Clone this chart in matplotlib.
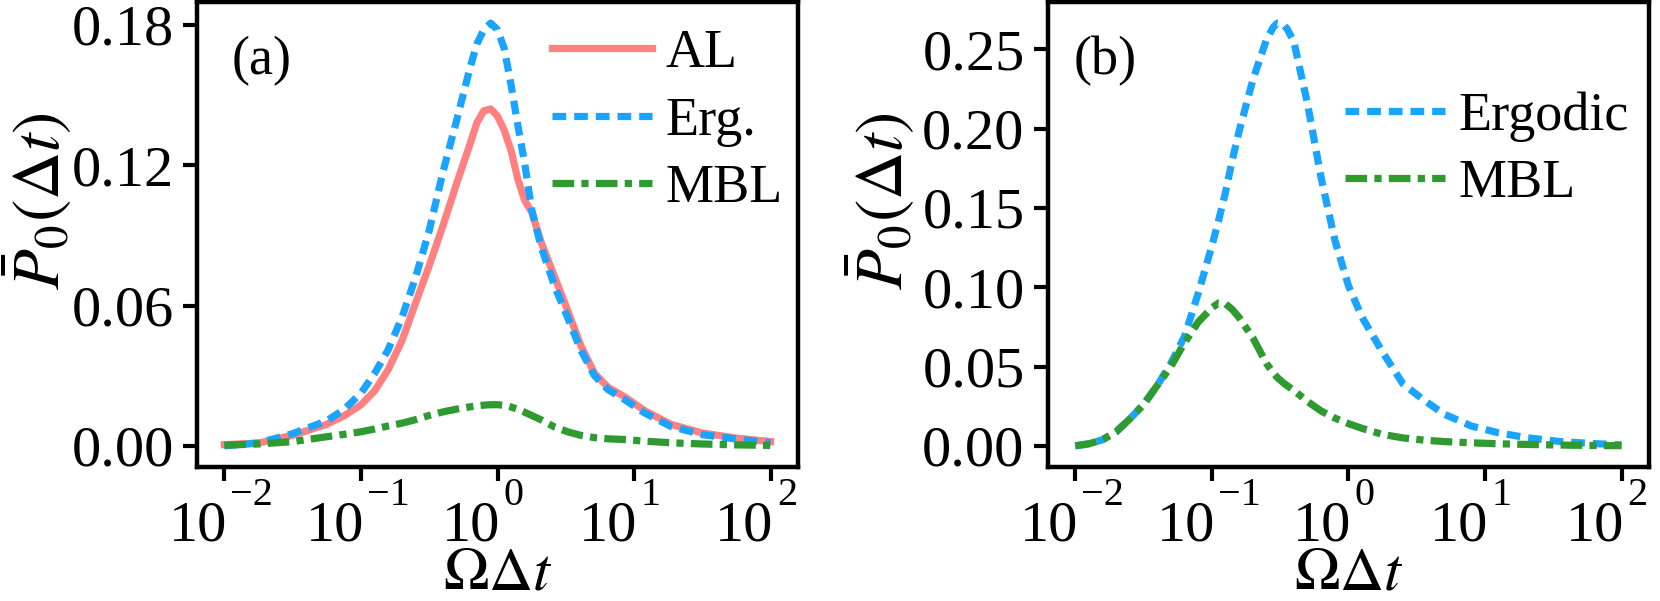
import matplotlib
matplotlib.use("Agg")
import matplotlib.pyplot as plt
from matplotlib.ticker import FormatStrFormatter, NullLocator
from matplotlib.transforms import offset_copy

plt.rcParams['font.family'] = ['Liberation Serif', 'DejaVu Serif']
plt.rcParams['mathtext.fontset'] = 'stix'

# panel (a): values
x_a = [0.01, 0.0178, 0.0316, 0.0562, 0.075, 0.1, 0.126, 0.158, 0.2, 0.251, 0.316,
       0.398, 0.501, 0.631, 0.708, 0.794, 0.891, 1.0, 1.12, 1.26, 1.41,
       1.58, 1.78, 2.09, 2.63, 3.31, 4.07, 5.13, 6.46, 8.51, 12.0,
       18.6, 31.6, 56.2, 100.0]
al_a = [0.0005, 0.0012, 0.0045, 0.0092, 0.0128, 0.0175, 0.0235, 0.0325, 0.045, 0.061, 0.077,
        0.094, 0.112, 0.1293, 0.1383, 0.1433, 0.1441, 0.141, 0.135, 0.126, 0.114,
        0.105, 0.100, 0.087, 0.072, 0.057, 0.043, 0.031, 0.025, 0.021, 0.015,
        0.0092, 0.0055, 0.0033, 0.0018]
erg_a = [0.0, 0.0012, 0.0052, 0.0107, 0.0155, 0.0225, 0.031, 0.041, 0.055, 0.072, 0.092,
         0.117, 0.139, 0.162, 0.172, 0.178, 0.1808, 0.178, 0.170, 0.154, 0.137,
         0.121, 0.101, 0.085, 0.068, 0.054, 0.041, 0.030, 0.024, 0.0198, 0.014,
         0.0083, 0.0048, 0.0029, 0.0013]
mbl_a = [0.0003, 0.0008, 0.0018, 0.0039, 0.0049, 0.0060, 0.0072, 0.0085, 0.0097, 0.0112, 0.0130,
         0.0145, 0.0157, 0.0167, 0.0171, 0.0174, 0.0176, 0.0176, 0.0173, 0.0166, 0.0156,
         0.0144, 0.0130, 0.0111, 0.0080, 0.0059, 0.0045, 0.0035, 0.0030, 0.0027, 0.0020,
         0.0013, 0.0008, 0.0004, 0.0002]

# panel (b)
x_b = [0.01, 0.0126, 0.0158, 0.02, 0.0251, 0.0316, 0.0398, 0.0501, 0.0631, 0.0794,
       0.1, 0.112, 0.126, 0.141, 0.158, 0.2, 0.251, 0.282, 0.302, 0.331,
       0.355, 0.398, 0.501, 0.631, 0.794, 1.0, 1.26, 1.78, 2.51, 3.55,
       5.01, 7.94, 12.6, 20.0, 35.5, 63.1, 100.0]
erg_b = [0.0, 0.0013, 0.0038, 0.009, 0.017, 0.026, 0.038, 0.052, 0.069, 0.096,
         0.126, 0.142, 0.160, 0.180, 0.198, 0.231, 0.256, 0.264, 0.2665, 0.266,
         0.263, 0.255, 0.216, 0.169, 0.130, 0.101, 0.081, 0.059, 0.039, 0.029,
         0.020, 0.0125, 0.0082, 0.0052, 0.0027, 0.0014, 0.0006]
mbl_b = [0.0, 0.0013, 0.0038, 0.009, 0.017, 0.026, 0.038, 0.050, 0.065, 0.078,
         0.087, 0.090, 0.0895, 0.086, 0.081, 0.068, 0.052, 0.046, 0.043, 0.040,
         0.038, 0.035, 0.028, 0.022, 0.0175, 0.014, 0.011, 0.0072, 0.0050, 0.0036,
         0.0027, 0.0019, 0.0013, 0.0009, 0.0005, 0.0002, 0.0001]

yticks_a = [0.00, 0.06, 0.12, 0.18]
yticks_b = [0.00, 0.05, 0.10, 0.15, 0.20, 0.25]
xticks = [1e-2, 1e-1, 1e0, 1e1, 1e2]
xtick_exp = ['\u22122', '\u22121', '0', '1', '2']

c_al = '#ff8080'
c_erg = '#1aa3ff'
c_mbl = '#2f9a2f'
lw = 2.6

fig = plt.figure(figsize=(8.3, 3.005), dpi=200)
ax1 = fig.add_axes([0.1187, 0.2230, 0.3620, 0.7737])
ax2 = fig.add_axes([0.6313, 0.2230, 0.3620, 0.7737])

ax1.plot(x_a, al_a, color=c_al, lw=lw, label='AL')
ax1.plot(x_a, erg_a, color=c_erg, lw=lw, dashes=(1.9, 1.1), label='Erg.')
ax1.plot(x_a, mbl_a, color=c_mbl, lw=lw, dashes=(3.0, 1.0, 1.0, 1.0), label='MBL')

ax2.plot(x_b, erg_b, color=c_erg, lw=lw, dashes=(1.9, 1.1), label='Ergodic')
ax2.plot(x_b, mbl_b, color=c_mbl, lw=lw, dashes=(3.0, 1.0, 1.0, 1.0), label='MBL')

for ax, yt, ylab_x in [(ax1, yticks_a, -0.205), (ax2, yticks_b, -0.218)]:
    ax.set_xscale('log')
    ax.set_xticks(xticks)
    ax.xaxis.set_minor_locator(NullLocator())
    ax.set_yticks(yt)
    ax.yaxis.set_major_formatter(FormatStrFormatter('%.2f'))
    ax.tick_params(which='major', length=4.9, width=1.5, labelsize=21)
    ax.tick_params(axis='x', labelbottom=False)
    for s in ax.spines.values():
        s.set_linewidth(1.6)
    # x tick labels as 10 with a raised exponent
    tr = ax.get_xaxis_transform()
    base_tr = offset_copy(tr, fig=fig, x=1.1, y=-11.9, units='points')
    exp_tr = offset_copy(tr, fig=fig, x=2.2, y=-3.6, units='points')
    for t, e in zip(xticks, xtick_exp):
        ax.text(t, 0, '10', transform=base_tr, ha='right', va='top', fontsize=21)
        ax.text(t, 0, e, transform=exp_tr, ha='left', va='top', fontsize=14.5)
    ax.set_xlabel(r'$\Omega\Delta t$', fontsize=22)
    ax.xaxis.set_label_coords(0.5, -0.173)
    ax.set_ylabel(r'$\bar{P}_0(\Delta t)$', fontsize=24)
    ax.yaxis.set_label_coords(ylab_x, 0.572)

ax1.text(0.058, 0.873, '(a)', transform=ax1.transAxes, fontsize=19.5, ha='left', va='center')
ax2.text(0.042, 0.873, '(b)', transform=ax2.transAxes, fontsize=19.5, ha='left', va='center')

ax1.legend(loc='upper right', bbox_to_anchor=(0.975, 0.942), frameon=False, fontsize=19.5,
           handlelength=1.84, handletextpad=0.25, labelspacing=0.31, borderpad=0, borderaxespad=0)
ax2.legend(loc='upper right', bbox_to_anchor=(0.967, 0.808), frameon=False, fontsize=19.5,
           handlelength=1.84, handletextpad=0.25, labelspacing=0.31, borderpad=0, borderaxespad=0)

fig.savefig('out.png', dpi=200)
